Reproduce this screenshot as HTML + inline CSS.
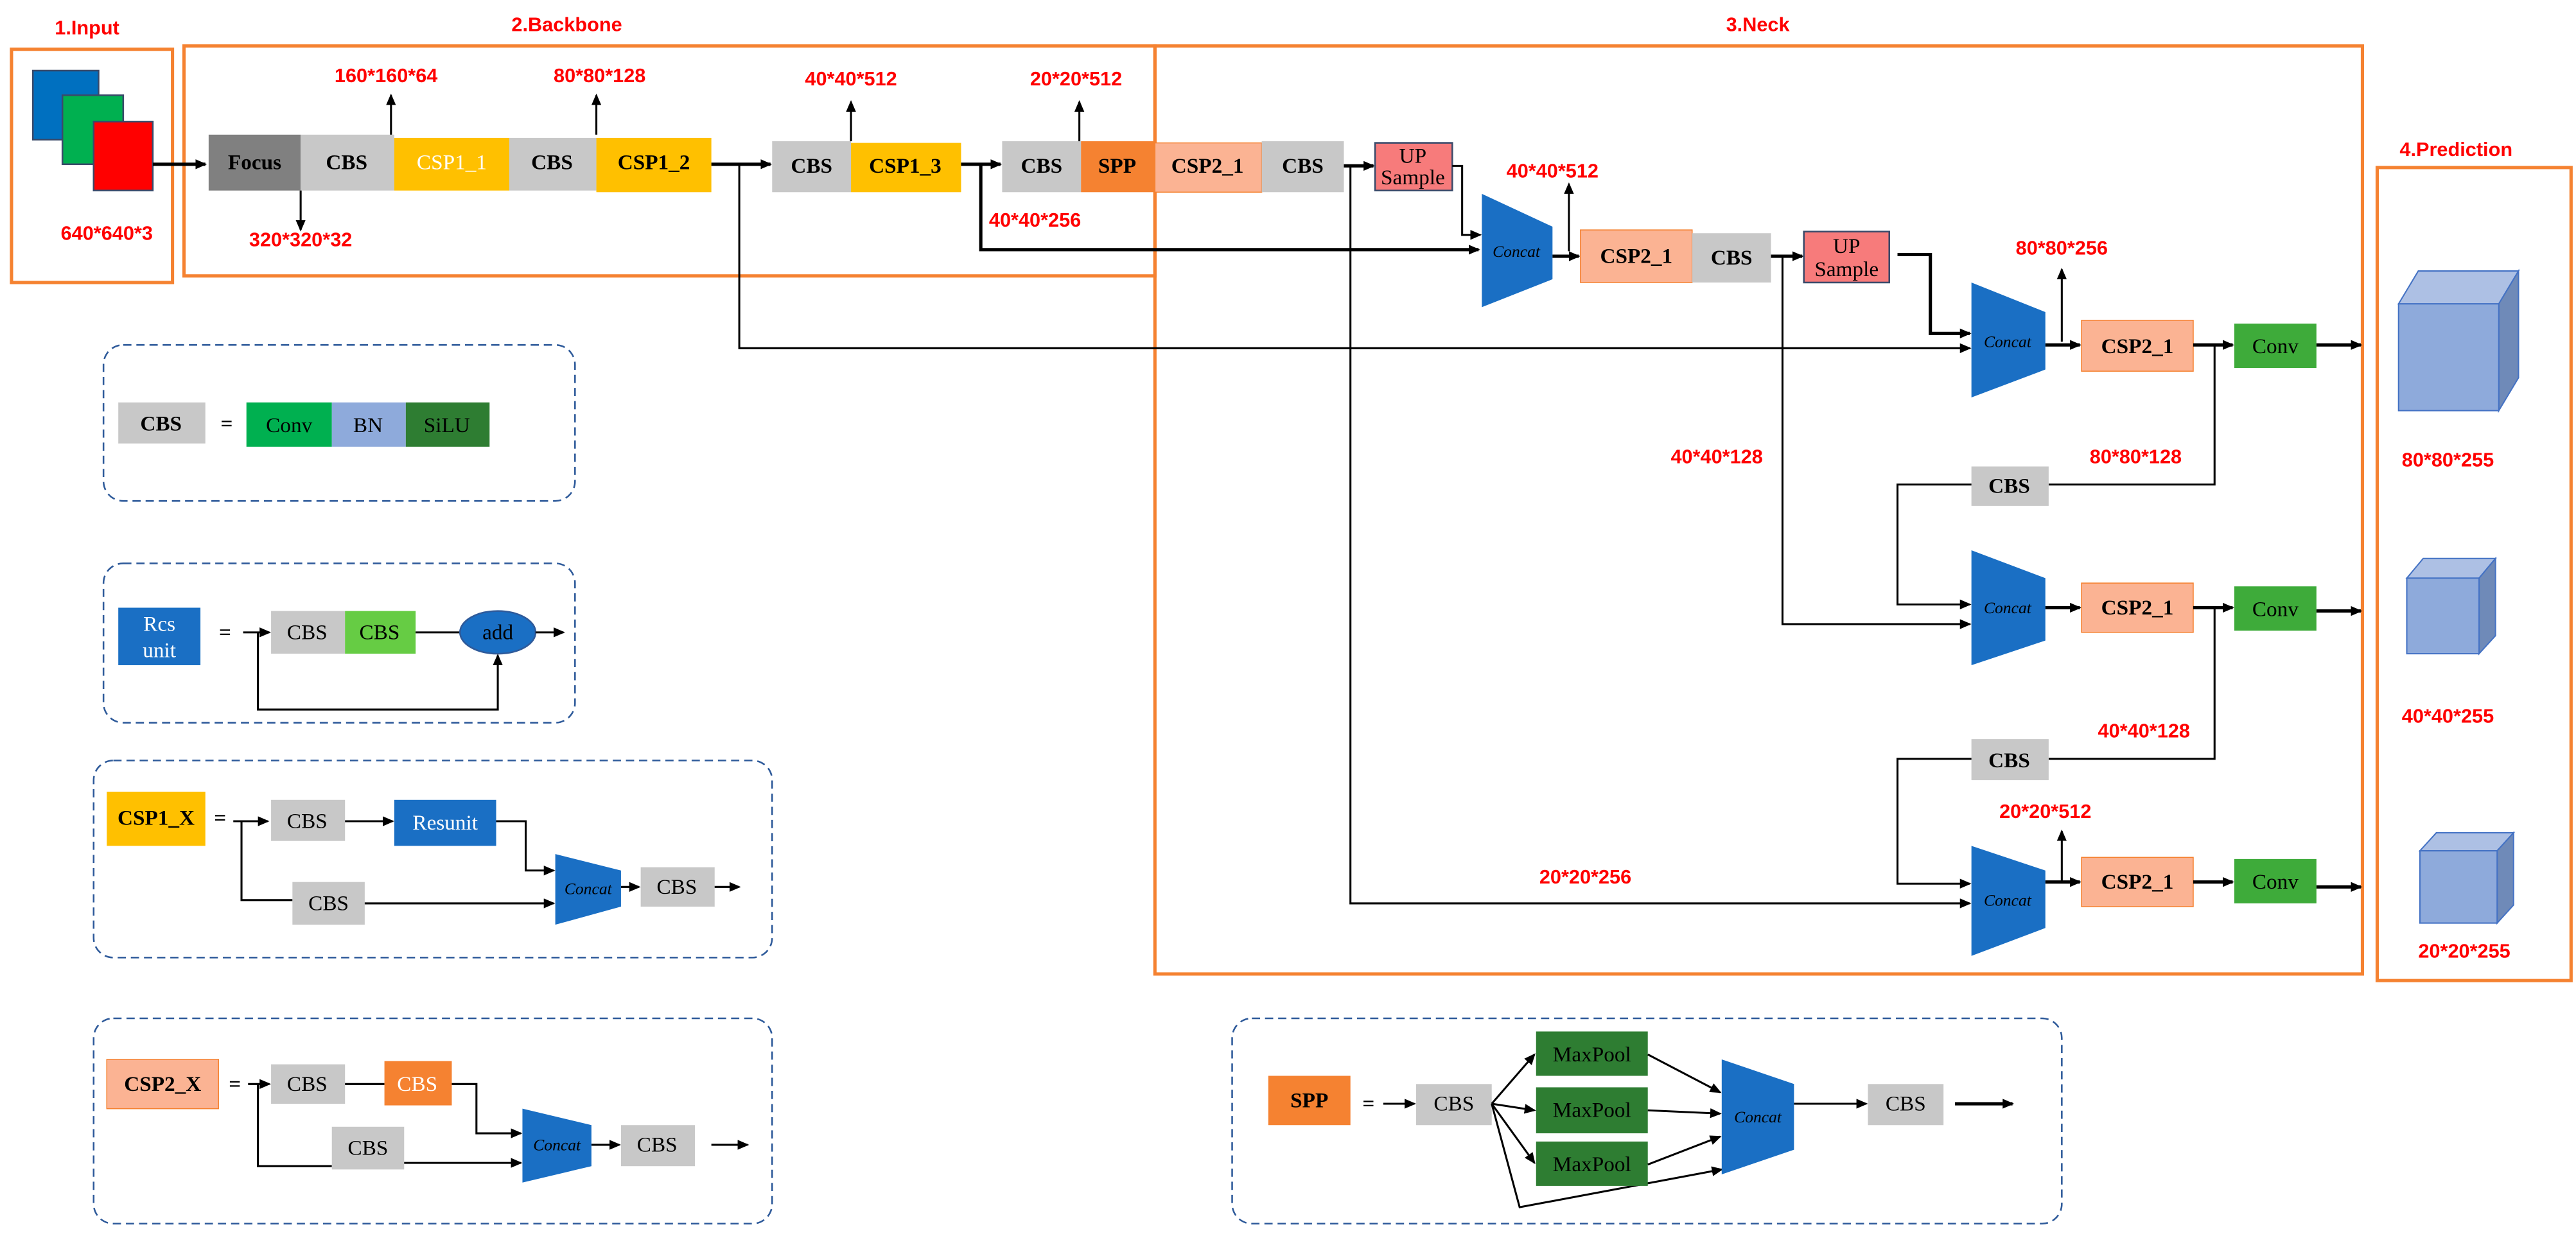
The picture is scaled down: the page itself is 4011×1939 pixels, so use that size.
<!DOCTYPE html>
<html><head><meta charset="utf-8"><style>
html,body{margin:0;padding:0;background:#fff;width:4011px;height:1939px;overflow:hidden}
svg{display:block}
.r{fill:#f00;font-family:"Liberation Sans",sans-serif;font-weight:bold;font-size:12px;text-anchor:middle}
.t{font-family:"Liberation Serif",serif;font-size:13px;text-anchor:middle;dominant-baseline:central}
.b{font-weight:bold}
.ln{stroke:#000;stroke-width:1.2;fill:none}
.lt{stroke:#000;stroke-width:2;fill:none}
.dash{fill:none;stroke:#2e5a9a;stroke-width:1;stroke-dasharray:5,3}
.ob{fill:none;stroke:#f58231;stroke-width:2}
.cc{fill:#1a6fc4}
.ct{font-family:"Liberation Serif",serif;font-style:italic;font-size:10px;text-anchor:middle;dominant-baseline:central}
</style></head><body>
<svg width="4011" height="1939" viewBox="0 0 1568 758" preserveAspectRatio="none" xmlns="http://www.w3.org/2000/svg">
<defs><marker id="a" markerWidth="8" markerHeight="8" refX="6" refY="3" orient="auto" markerUnits="userSpaceOnUse"><path d="M0,0 L7,3 L0,6 z" fill="#000"/></marker></defs>

<!-- titles -->
<text class="r" x="53" y="21" font-size="13">1.Input</text>
<text class="r" x="345" y="19" font-size="13">2.Backbone</text>
<text class="r" x="1070" y="19" font-size="13">3.Neck</text>
<text class="r" x="1495" y="95" font-size="13">4.Prediction</text>

<rect class="ob" x="7" y="30" width="98" height="142"/>
<rect class="ob" x="112" y="28" width="591" height="140"/>
<rect class="ob" x="703" y="28" width="735" height="565"/>
<rect class="ob" x="1447" y="102" width="118" height="495"/>

<!-- input -->
<rect x="20" y="43" width="40" height="42" fill="#0070c0" stroke="#3a4a6a"/>
<rect x="38" y="58" width="37" height="42" fill="#00b050" stroke="#3a4a6a"/>
<rect x="57" y="74" width="36" height="42" fill="#f00" stroke="#3a4a6a"/>
<text class="r" x="65" y="146">640*640*3</text>
<line class="lt" x1="93" y1="100" x2="125" y2="100" marker-end="url(#a)"/>

<!-- backbone row -->
<rect x="127" y="82" width="56" height="34" fill="#808080"/><text class="t b" x="155" y="99">Focus</text>
<rect x="183" y="82" width="57" height="34" fill="#c8c8c8"/><text class="t b" x="211" y="99">CBS</text>
<rect x="240" y="84" width="70" height="32" fill="#ffc000"/><text class="t" x="275" y="99" fill="#fff">CSP1_1</text>
<rect x="310" y="84" width="53" height="32" fill="#c8c8c8"/><text class="t b" x="336" y="99">CBS</text>
<rect x="363" y="84" width="70" height="33" fill="#ffc000"/><text class="t b" x="398" y="99">CSP1_2</text>
<line class="lt" x1="433" y1="100" x2="469" y2="100" marker-end="url(#a)"/>
<rect x="470" y="86" width="48" height="31" fill="#c8c8c8"/><text class="t b" x="494" y="101">CBS</text>
<rect x="518" y="87" width="67" height="30" fill="#ffc000"/><text class="t b" x="551" y="101">CSP1_3</text>
<line class="lt" x1="585" y1="100" x2="609" y2="100" marker-end="url(#a)"/>
<rect x="610" y="86" width="48" height="31" fill="#c8c8c8"/><text class="t b" x="634" y="101">CBS</text>
<rect x="658" y="86" width="45" height="31" fill="#f58231"/><text class="t b" x="680" y="101">SPP</text>
<rect x="703" y="87" width="65" height="30" fill="#fbb393" stroke="#f58231" stroke-width="0.6"/><text class="t b" x="735" y="101">CSP2_1</text>
<rect x="768" y="86" width="50" height="31" fill="#c8c8c8"/><text class="t b" x="793" y="101">CBS</text>
<line class="lt" x1="818" y1="101" x2="836" y2="101" marker-end="url(#a)"/>
<rect x="837" y="87" width="47" height="29" fill="#f77b7b" stroke="#3a4a6a"/><text class="t" x="860" y="95" font-size="9">UP</text><text class="t" x="860" y="108" font-size="9">Sample</text>

<line class="ln" x1="238" y1="82" x2="238" y2="58" marker-end="url(#a)"/><text class="r" x="235" y="50">160*160*64</text>
<line class="ln" x1="363" y1="82" x2="363" y2="58" marker-end="url(#a)"/><text class="r" x="365" y="50">80*80*128</text>
<line class="ln" x1="518" y1="86" x2="518" y2="62" marker-end="url(#a)"/><text class="r" x="518" y="52">40*40*512</text>
<line class="ln" x1="657" y1="86" x2="657" y2="62" marker-end="url(#a)"/><text class="r" x="655" y="52">20*20*512</text>
<line class="ln" x1="183" y1="116" x2="183" y2="140" marker-end="url(#a)"/><text class="r" x="183" y="150">320*320*32</text>

<!-- long lines -->
<text class="r" x="630" y="138">40*40*256</text>
<polyline class="lt" points="597,100 597,152 900,152" marker-end="url(#a)"/>
<polyline class="ln" points="450,100 450,212 1199,212" marker-end="url(#a)"/>
<polyline class="ln" points="822,101 822,550 1199,550" marker-end="url(#a)"/>
<text class="r" x="965" y="538">20*20*256</text>
<polyline class="ln" points="884,101 890,101 890,143 901,143" marker-end="url(#a)"/>

<!-- concat 1 -->
<polygon class="cc" points="902,118 945,138 945,170 902,187"/><text class="ct" x="923" y="153">Concat</text>
<line class="lt" x1="945" y1="156" x2="961" y2="156" marker-end="url(#a)"/>
<line class="ln" x1="955" y1="153" x2="955" y2="112" marker-end="url(#a)"/><text class="r" x="945" y="108">40*40*512</text>
<rect x="962" y="140" width="68" height="32" fill="#fbb393" stroke="#f58231" stroke-width="0.6"/><text class="t b" x="996" y="156">CSP2_1</text>
<rect x="1030" y="142" width="48" height="30" fill="#c8c8c8"/><text class="t b" x="1054" y="157">CBS</text>
<line class="lt" x1="1078" y1="156" x2="1097" y2="156" marker-end="url(#a)"/>
<rect x="1098" y="141" width="52" height="31" fill="#f77b7b" stroke="#3a4a6a"/><text class="t" x="1124" y="150" font-size="9">UP</text><text class="t" x="1124" y="164" font-size="9">Sample</text>
<polyline class="ln" points="1085,156 1085,380 1199,380" marker-end="url(#a)"/>
<text class="r" x="1045" y="282">40*40*128</text>
<polyline class="lt" points="1155,155 1175,155 1175,203 1199,203" marker-end="url(#a)"/>

<!-- concat 2 -->
<polygon class="cc" points="1200,172 1245,190 1245,225 1200,242"/><text class="ct" x="1222" y="208">Concat</text>
<line class="lt" x1="1245" y1="210" x2="1266" y2="210" marker-end="url(#a)"/>
<line class="ln" x1="1255" y1="208" x2="1255" y2="164" marker-end="url(#a)"/><text class="r" x="1255" y="155">80*80*256</text>
<rect x="1267" y="195" width="68" height="31" fill="#fbb393" stroke="#f58231" stroke-width="0.6"/><text class="t b" x="1301" y="211">CSP2_1</text>
<line class="lt" x1="1335" y1="210" x2="1359" y2="210" marker-end="url(#a)"/>
<rect x="1360" y="197" width="50" height="27" fill="#3eab3a"/><text class="t" x="1385" y="211">Conv</text>
<line class="lt" x1="1410" y1="210" x2="1437" y2="210" marker-end="url(#a)"/>
<polyline class="ln" points="1348,210 1348,295 1247,295"/>
<rect x="1200" y="284" width="47" height="24" fill="#c8c8c8"/><text class="t b" x="1223" y="296">CBS</text>
<polyline class="ln" points="1200,295 1155,295 1155,368 1199,368" marker-end="url(#a)"/>
<text class="r" x="1300" y="282">80*80*128</text>

<!-- concat 3 -->
<polygon class="cc" points="1200,335 1245,352 1245,390 1200,405"/><text class="ct" x="1222" y="370">Concat</text>
<line class="lt" x1="1245" y1="370" x2="1266" y2="370" marker-end="url(#a)"/>
<rect x="1267" y="355" width="68" height="30" fill="#fbb393" stroke="#f58231" stroke-width="0.6"/><text class="t b" x="1301" y="370">CSP2_1</text>
<line class="lt" x1="1335" y1="370" x2="1359" y2="370" marker-end="url(#a)"/>
<rect x="1360" y="357" width="50" height="27" fill="#3eab3a"/><text class="t" x="1385" y="371">Conv</text>
<line class="lt" x1="1410" y1="372" x2="1437" y2="372" marker-end="url(#a)"/>
<polyline class="ln" points="1348,370 1348,462 1247,462"/>
<rect x="1200" y="450" width="47" height="25" fill="#c8c8c8"/><text class="t b" x="1223" y="463">CBS</text>
<polyline class="ln" points="1200,462 1155,462 1155,538 1199,538" marker-end="url(#a)"/>
<text class="r" x="1305" y="449">40*40*128</text>

<!-- concat 4 -->
<polygon class="cc" points="1200,515 1245,530 1245,565 1200,582"/><text class="ct" x="1222" y="548">Concat</text>
<line class="lt" x1="1245" y1="537" x2="1266" y2="537" marker-end="url(#a)"/>
<line class="ln" x1="1255" y1="537" x2="1255" y2="506" marker-end="url(#a)"/><text class="r" x="1245" y="498">20*20*512</text>
<rect x="1267" y="522" width="68" height="30" fill="#fbb393" stroke="#f58231" stroke-width="0.6"/><text class="t b" x="1301" y="537">CSP2_1</text>
<line class="lt" x1="1335" y1="537" x2="1359" y2="537" marker-end="url(#a)"/>
<rect x="1360" y="523" width="50" height="27" fill="#3eab3a"/><text class="t" x="1385" y="537">Conv</text>
<line class="lt" x1="1410" y1="540" x2="1437" y2="540" marker-end="url(#a)"/>

<!-- cubes -->
<g stroke="#4472c4" stroke-width="0.8">
<polygon points="1460,185 1472,165 1533,165 1521,185" fill="#adc0e4"/>
<polygon points="1521,185 1533,165 1533,230 1521,250" fill="#6f8ab8"/>
<rect x="1460" y="185" width="61" height="65" fill="#8eaadb"/>
<polygon points="1465,352 1475,340 1519,340 1509,352" fill="#adc0e4"/>
<polygon points="1509,352 1519,340 1519,387 1509,398" fill="#6f8ab8"/>
<rect x="1465" y="352" width="44" height="46" fill="#8eaadb"/>
<polygon points="1473,518 1483,507 1530,507 1520,518" fill="#adc0e4"/>
<polygon points="1520,518 1530,507 1530,551 1520,562" fill="#6f8ab8"/>
<rect x="1473" y="518" width="47" height="44" fill="#8eaadb"/>
</g>
<text class="r" x="1490" y="284">80*80*255</text>
<text class="r" x="1490" y="440">40*40*255</text>
<text class="r" x="1500" y="583">20*20*255</text>

<!-- legend CBS -->
<rect class="dash" x="63" y="210" width="287" height="95" rx="12"/>
<rect x="72" y="245" width="53" height="25" fill="#c8c8c8"/><text class="t b" x="98" y="258">CBS</text>
<text class="t b" x="138" y="258" font-size="18">=</text>
<rect x="150" y="245" width="52" height="27" fill="#00b050"/><text class="t" x="176" y="259" font-size="10">Conv</text>
<rect x="202" y="245" width="45" height="27" fill="#8eaadb"/><text class="t" x="224" y="259" font-size="10">BN</text>
<rect x="247" y="245" width="51" height="27" fill="#2e7d32"/><text class="t" x="272" y="259" font-size="10">SiLU</text>

<!-- legend Res unit -->
<rect class="dash" x="63" y="343" width="287" height="97" rx="12"/>
<rect x="72" y="370" width="50" height="35" fill="#1a6fc4"/><text class="t" x="97" y="380" fill="#fff">Rcs</text><text class="t" x="97" y="396" fill="#fff">unit</text>
<text class="t b" x="137" y="385" font-size="18">=</text>
<line class="ln" x1="148" y1="385" x2="164" y2="385" marker-end="url(#a)"/>
<rect x="165" y="372" width="45" height="26" fill="#c8c8c8"/><text class="t" x="187" y="385">CBS</text>
<rect x="210" y="372" width="43" height="26" fill="#66cc44"/><text class="t" x="231" y="385">CBS</text>
<line class="ln" x1="253" y1="385" x2="280" y2="385"/>
<ellipse cx="303" cy="385" rx="23" ry="13" fill="#1a6fc4" stroke="#2e5a9a"/><text class="t" x="303" y="385" font-size="11">add</text>
<line class="ln" x1="326" y1="385" x2="343" y2="385" marker-end="url(#a)"/>
<polyline class="ln" points="157,385 157,432 303,432 303,399" marker-end="url(#a)"/>

<!-- legend CSP1_X -->
<rect class="dash" x="57" y="463" width="413" height="120" rx="12"/>
<rect x="65" y="482" width="60" height="33" fill="#ffc000"/><text class="t b" x="95" y="498">CSP1_X</text>
<text class="t b" x="134" y="498" font-size="18">=</text>
<line class="ln" x1="142" y1="500" x2="163" y2="500" marker-end="url(#a)"/>
<rect x="165" y="487" width="45" height="25" fill="#c8c8c8"/><text class="t" x="187" y="500">CBS</text>
<line class="ln" x1="210" y1="500" x2="239" y2="500" marker-end="url(#a)"/>
<rect x="240" y="487" width="62" height="28" fill="#1a6fc4"/><text class="t" x="271" y="501" fill="#fff">Resunit</text>
<polyline class="ln" points="302,500 320,500 320,530 337,530" marker-end="url(#a)"/>
<polyline class="ln" points="147,500 147,548 178,548"/>
<rect x="178" y="537" width="44" height="26" fill="#c8c8c8"/><text class="t" x="200" y="550">CBS</text>
<line class="ln" x1="222" y1="550" x2="337" y2="550" marker-end="url(#a)"/>
<polygon class="cc" points="338,520 378,530 378,552 338,563"/><text class="ct" x="358" y="541" font-size="8">Concat</text>
<line class="ln" x1="378" y1="540" x2="389" y2="540" marker-end="url(#a)"/>
<rect x="390" y="528" width="45" height="24" fill="#c8c8c8"/><text class="t" x="412" y="540">CBS</text>
<line class="ln" x1="435" y1="540" x2="450" y2="540" marker-end="url(#a)"/>

<!-- legend CSP2_X -->
<rect class="dash" x="57" y="620" width="413" height="125" rx="12"/>
<rect x="65" y="645" width="68" height="30" fill="#fbb393" stroke="#f58231" stroke-width="0.6"/><text class="t b" x="99" y="660">CSP2_X</text>
<text class="t b" x="143" y="660" font-size="18">=</text>
<line class="ln" x1="151" y1="660" x2="164" y2="660" marker-end="url(#a)"/>
<rect x="165" y="648" width="45" height="24" fill="#c8c8c8"/><text class="t" x="187" y="660">CBS</text>
<line class="ln" x1="210" y1="660" x2="234" y2="660"/>
<rect x="234" y="646" width="41" height="27" fill="#f58231"/><text class="t" x="254" y="660" fill="#fff">CBS</text>
<polyline class="ln" points="275,660 290,660 290,690 317,690" marker-end="url(#a)"/>
<polyline class="ln" points="157,660 157,710 202,710"/>
<rect x="202" y="686" width="44" height="26" fill="#c8c8c8"/><text class="t" x="224" y="699">CBS</text>
<line class="ln" x1="246" y1="708" x2="317" y2="708" marker-end="url(#a)"/>
<polygon class="cc" points="318,675 360,685 360,710 318,720"/><text class="ct" x="339" y="697" font-size="8">Concat</text>
<line class="ln" x1="360" y1="697" x2="377" y2="697" marker-end="url(#a)"/>
<rect x="378" y="685" width="45" height="25" fill="#c8c8c8"/><text class="t" x="400" y="697">CBS</text>
<line class="ln" x1="433" y1="697" x2="455" y2="697" marker-end="url(#a)"/>

<!-- legend SPP -->
<rect class="dash" x="750" y="620" width="505" height="125" rx="12"/>
<rect x="772" y="655" width="50" height="30" fill="#f58231"/><text class="t b" x="797" y="670">SPP</text>
<text class="t b" x="833" y="672" font-size="18">=</text>
<line class="ln" x1="842" y1="672" x2="861" y2="672" marker-end="url(#a)"/>
<rect x="862" y="660" width="46" height="25" fill="#c8c8c8"/><text class="t" x="885" y="672">CBS</text>
<line class="ln" x1="908" y1="672" x2="934" y2="642" marker-end="url(#a)"/>
<line class="ln" x1="908" y1="672" x2="934" y2="676" marker-end="url(#a)"/>
<line class="ln" x1="908" y1="672" x2="934" y2="708" marker-end="url(#a)"/>
<polyline class="ln" points="908,672 925,735 1048,712" marker-end="url(#a)"/>
<rect x="935" y="628" width="68" height="27" fill="#2e7d32"/><text class="t" x="969" y="642">MaxPool</text>
<rect x="935" y="662" width="68" height="28" fill="#2e7d32"/><text class="t" x="969" y="676">MaxPool</text>
<rect x="935" y="695" width="68" height="27" fill="#2e7d32"/><text class="t" x="969" y="709">MaxPool</text>
<line class="ln" x1="1003" y1="642" x2="1047" y2="665" marker-end="url(#a)"/>
<line class="ln" x1="1003" y1="676" x2="1047" y2="678" marker-end="url(#a)"/>
<line class="ln" x1="1003" y1="709" x2="1047" y2="692" marker-end="url(#a)"/>
<polygon class="cc" points="1048,645 1092,660 1092,700 1048,715"/><text class="ct" x="1070" y="680">Concat</text>
<line class="ln" x1="1092" y1="672" x2="1136" y2="672" marker-end="url(#a)"/>
<rect x="1137" y="660" width="46" height="25" fill="#c8c8c8"/><text class="t" x="1160" y="672">CBS</text>
<line class="lt" x1="1190" y1="672" x2="1225" y2="672" marker-end="url(#a)"/>
</svg>
</body></html>
